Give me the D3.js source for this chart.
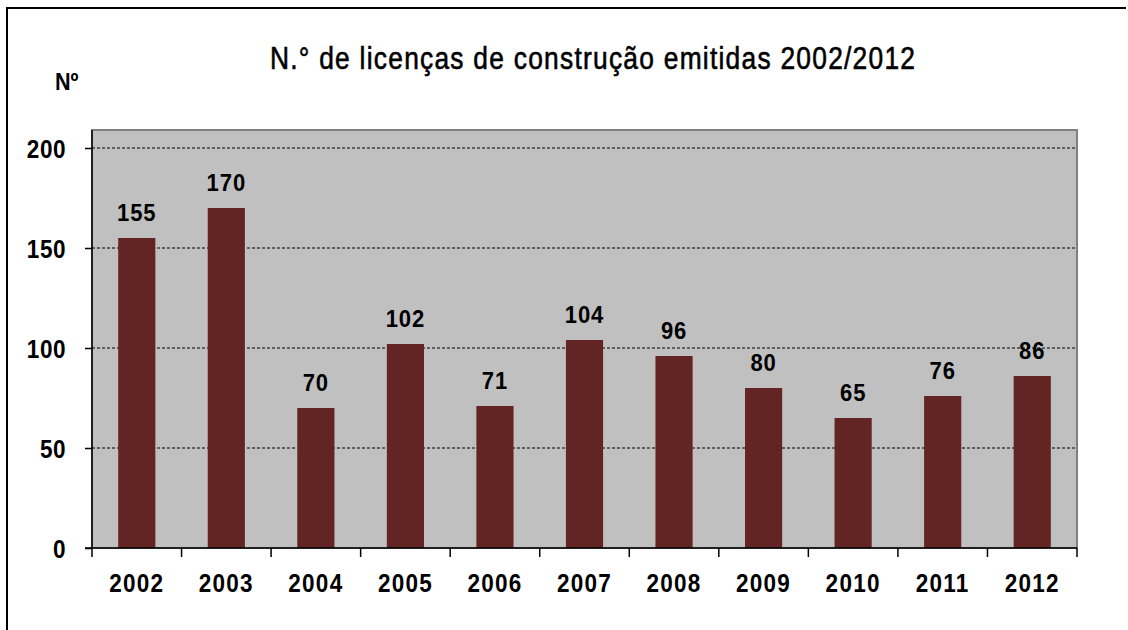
<!DOCTYPE html>
<html>
<head>
<meta charset="utf-8">
<script src="https://cdn.jsdelivr.net/npm/d3@7"></script>
<style>
  body { margin: 0; background: #fff; }
  text { font-family: "Liberation Sans", Arial, sans-serif; fill: #000; }
</style>
</head>
<body>
<svg width="1128" height="630"></svg>
<script>
const years = ["2002", "2003", "2004", "2005", "2006", "2007", "2008", "2009", "2010", "2011", "2012"];
const licences = [155, 170, 70, 102, 71, 104, 96, 80, 65, 76, 86];
const yTicks = [0, 50, 100, 150, 200];

const svg = d3.select("svg");

// bold, slightly condensed labels like the original
function boldLabel(g, size, spacing) {
  return g.attr("font-size", size)
    .attr("font-weight", "bold")
    .attr("letter-spacing", spacing);
}

// outer frame (only top and left edges visible)
svg.append("path")
  .attr("d", "M7,640 L7,8 L1126,8")
  .attr("fill", "none")
  .attr("stroke", "#000")
  .attr("stroke-width", 2);

const plot = { left: 92, right: 1077, top: 130, bottom: 548 };

const x = d3.scaleBand()
  .domain(years)
  .range([plot.left, plot.right])
  .paddingInner(0.585)
  .paddingOuter(0.2925);

const y = d3.scaleLinear()
  .domain([0, 200])
  .range([plot.bottom, 148]);

// plot area
svg.append("rect")
  .attr("x", plot.left)
  .attr("y", plot.top)
  .attr("width", plot.right - plot.left)
  .attr("height", plot.bottom - plot.top)
  .attr("fill", "#c0c0c0")
  .attr("stroke", "#808080")
  .attr("stroke-width", 2);

// gridlines
svg.append("g")
  .selectAll("line")
  .data(yTicks.filter(d => d > 0))
  .enter().append("line")
  .attr("x1", plot.left)
  .attr("x2", plot.right)
  .attr("y1", d => y(d))
  .attr("y2", d => y(d))
  .attr("stroke", "#000")
  .attr("stroke-width", 1)
  .attr("stroke-dasharray", "3,2");

// bars
svg.append("g")
  .selectAll("rect")
  .data(years)
  .enter().append("rect")
  .attr("x", d => x(d))
  .attr("y", (d, i) => y(licences[i]))
  .attr("width", x.bandwidth())
  .attr("height", (d, i) => y(0) - y(licences[i]))
  .attr("fill", "#632523");

// value labels
svg.append("g")
  .selectAll("text")
  .data(years)
  .enter().append("text")
  .attr("transform", (d, i) => "translate(" + (x(d) + x.bandwidth() / 2) + "," + (y(licences[i]) - 17) + ") scale(0.9,1)")
  .attr("text-anchor", "middle")
  .call(boldLabel, 24.5, 1)
  .text((d, i) => licences[i]);

// y axis line and ticks
const yAxis = svg.append("g")
  .attr("transform", "translate(" + plot.left + ",0)")
  .call(d3.axisLeft(y).tickValues(yTicks).tickSize(7).tickFormat(""));
yAxis.select(".domain").attr("stroke", "#000").attr("stroke-width", 1.5).attr("d", "M0," + y(0) + "V" + plot.top);
yAxis.selectAll("line").attr("stroke", "#000").attr("stroke-width", 1.5);

svg.append("g")
  .selectAll("text")
  .data(yTicks)
  .enter().append("text")
  .attr("transform", d => "translate(66," + (y(d) + 9.5) + ") scale(0.9,1)")
  .attr("text-anchor", "end")
  .call(boldLabel, 25, 0.6)
  .text(d => d);

// x axis
const xAxis = svg.append("g")
  .attr("transform", "translate(0," + plot.bottom + ")");
xAxis.append("line")
  .attr("x1", plot.left - 7)
  .attr("x2", plot.right)
  .attr("stroke", "#000")
  .attr("stroke-width", 1.5);
const bounds = years.map(d => x(d) - x.step() * x.paddingOuter()).concat([plot.right]);
xAxis.selectAll(".tick")
  .data(bounds)
  .enter().append("line")
  .attr("x1", d => d)
  .attr("x2", d => d)
  .attr("y1", 0)
  .attr("y2", 9)
  .attr("stroke", "#000")
  .attr("stroke-width", 1.5);
xAxis.selectAll("text")
  .data(years)
  .enter().append("text")
  .attr("transform", d => "translate(" + (x(d) + x.bandwidth() / 2) + ",43.5) scale(0.9,1)")
  .attr("text-anchor", "middle")
  .call(boldLabel, 25, 1.4)
  .text(d => d);

// title
svg.append("text")
  .attr("transform", "translate(270,69) scale(0.85,1)")
  .attr("font-size", 31)
  .attr("stroke", "#000")
  .attr("stroke-width", 0.6)
  .attr("textLength", 645 / 0.85)
  .attr("lengthAdjust", "spacing")
  .text("N.° de licenças de construção emitidas 2002/2012");

// y unit label
svg.append("text")
  .attr("transform", "translate(55,90) scale(0.9,1)")
  .call(boldLabel, 24, 0)
  .text("Nº");
</script>
</body>
</html>
